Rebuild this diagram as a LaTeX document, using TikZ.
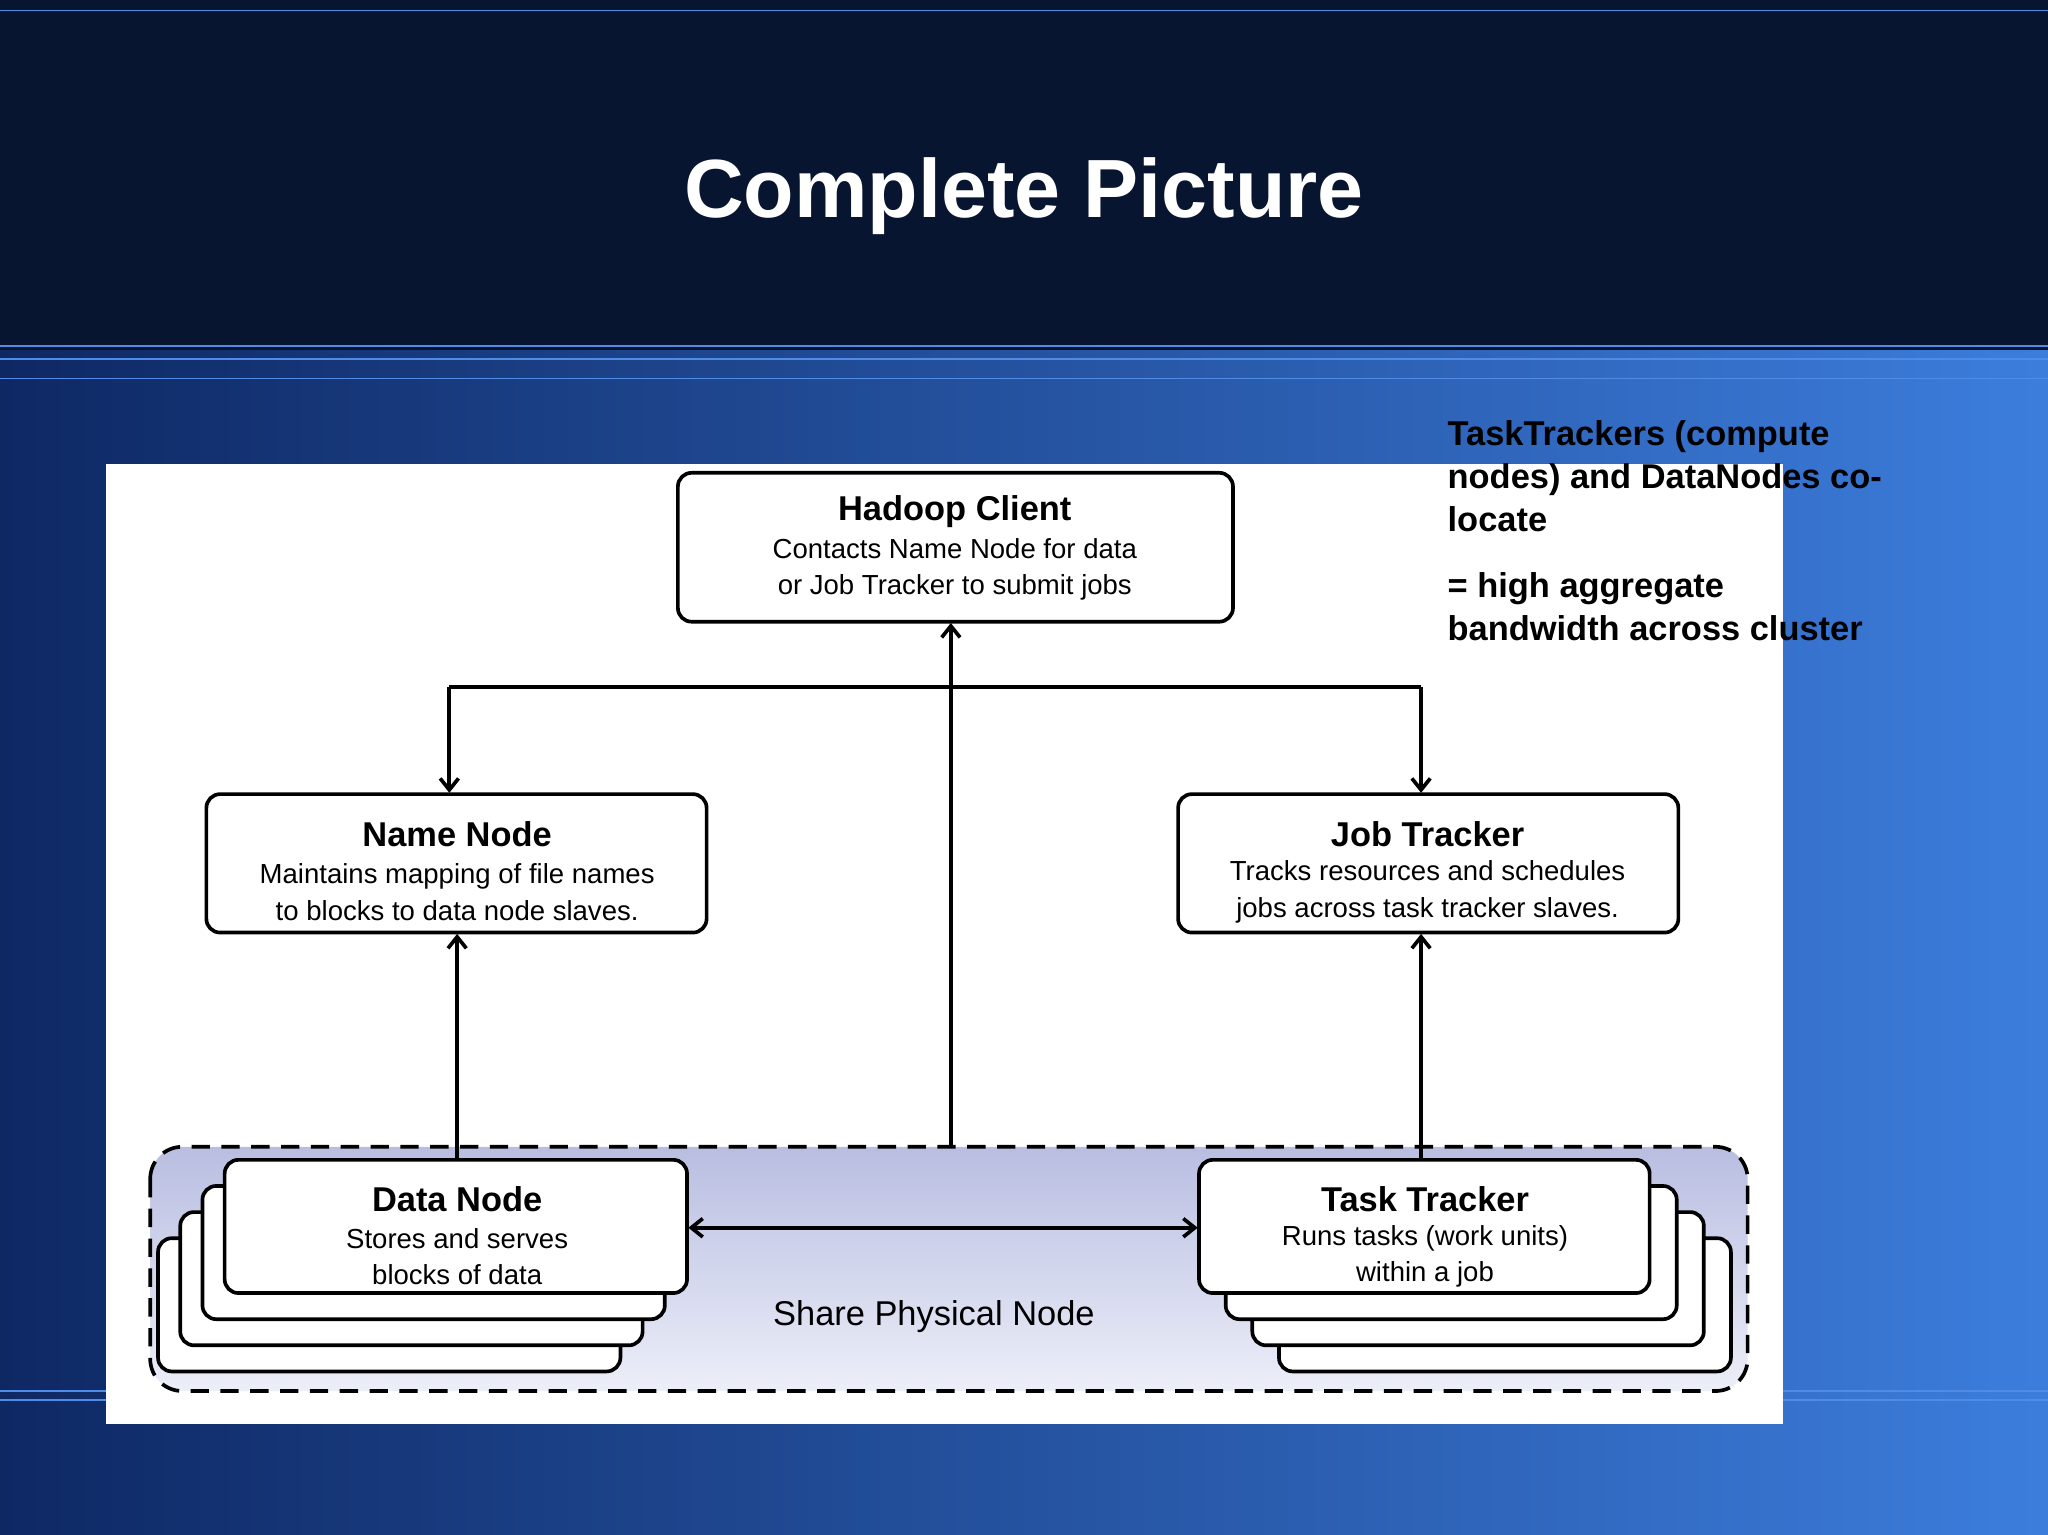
\documentclass[tikz,border=0pt]{standalone}
\usepackage{fontspec}
\setmainfont{Liberation Sans}
\usetikzlibrary{arrows.meta}
\definecolor{bgL}{RGB}{14,40,100}
\definecolor{bgR}{RGB}{60,125,220}
\definecolor{navy}{RGB}{7,21,48}
\definecolor{ln}{RGB}{80,140,230}
\begin{document}
\begin{tikzpicture}[x=0.02cm,y=-0.02cm,
 box/.style={draw=black,line width=1.6pt,rounded corners=6pt,fill=white},
 conn/.style={line width=1.6pt,-{Straight Barb[length=5pt,width=8pt]}},
 ttl/.style={font=\fontsize{15}{18}\selectfont\bfseries},
 body/.style={font=\fontsize{12}{15.9}\selectfont,align=center}]
\useasboundingbox (0,0) rectangle (1568,1175);
\fill[left color=bgL,right color=bgR] (0,265) rectangle (1568,1175);
\fill[navy] (0,0) rectangle (1568,268);
\foreach \yy in {8,265,275,290,1065,1072}{\draw[ln,line width=0.6pt] (0,\yy)--(1568,\yy);}
\node[text=white,font=\fontsize{36}{40}\selectfont\bfseries] (title) at (784,150) {Complete Picture};
\fill[white] (81,355) rectangle (1365,1090);
\draw[dashed,line width=1.6pt,rounded corners=14pt,top color={rgb,255:red,185;green,190;blue,225},bottom color={rgb,255:red,236;green,238;blue,248},dash pattern=on 8pt off 5pt] (115,878) rectangle (1338,1065);
\node[font=\fontsize{15}{18}\selectfont] (share) at (715,1008) {Share Physical Node};
\foreach \d/\e in {51/60,34/40,17/20}{
 \draw[box] (172-\d,888+\e) rectangle (526-\d,990+\e);
 \draw[box] (918+\d*1.2,888+\e) rectangle (1263+\d*1.22,990+\e);}
\draw[box] (519,362) rectangle (944,476);
\draw[box] (158,608) rectangle (541,714);
\draw[box] (902,608) rectangle (1285,714);
\draw[box] (172,888) rectangle (526,990);
\draw[box] (918,888) rectangle (1263,990);
\node[ttl] (hct) at (731,392) {Hadoop Client};
\node[body] (hcb) at (731,436) {Contacts Name Node for data\\or Job Tracker to submit jobs};
\node[ttl] (nnt) at (350,639) {Name Node};
\node[body] (nnb) at (350,683) {Maintains mapping of file names\\to blocks to data node slaves.};
\node[ttl] (jtt) at (1093,639) {Job Tracker};
\node[body] (jtb) at (1093,683) {Tracks resources and schedules\\jobs across task tracker slaves.};
\node[ttl] (dnt) at (350,918) {Data Node};
\node[body] (dnb) at (350,962) {Stores and serves\\blocks of data};
\node[ttl] (ttt) at (1091,918) {Task Tracker};
\node[body] (ttb) at (1091,962) {Runs tasks (work units)\\within a job};
\coordinate (hcB) at (728,477); \coordinate (shT) at (728,878);
\coordinate (jl) at (344,526); \coordinate (jr) at (1088,526);
\coordinate (nnT) at (344,607); \coordinate (jtT) at (1088,607);
\coordinate (nnB) at (350,715); \coordinate (dnT) at (350,887);
\coordinate (jtB) at (1088,715); \coordinate (ttT) at (1088,887);
\coordinate (dnR) at (527,940); \coordinate (ttL) at (917,940);
\draw[conn] (shT)--(hcB);
\draw[line width=1.6pt] (jl)--(jr);
\draw[conn] (jl)--(nnT);
\draw[conn] (jr)--(jtT);
\draw[conn] (dnT)--(nnB);
\draw[conn] (ttT)--(jtB);
\draw[conn,{Straight Barb[length=5pt,width=8pt]}-{Straight Barb[length=5pt,width=8pt]}] (dnR)--(ttL);
\node[anchor=north west,align=left,font=\fontsize{15}{18.7}\selectfont\bfseries,inner sep=0] (note) at (1108,322) {TaskTrackers (compute\\nodes) and DataNodes co-\\locate\\[10pt]= high aggregate\\bandwidth across cluster};
\end{tikzpicture}
\end{document}
